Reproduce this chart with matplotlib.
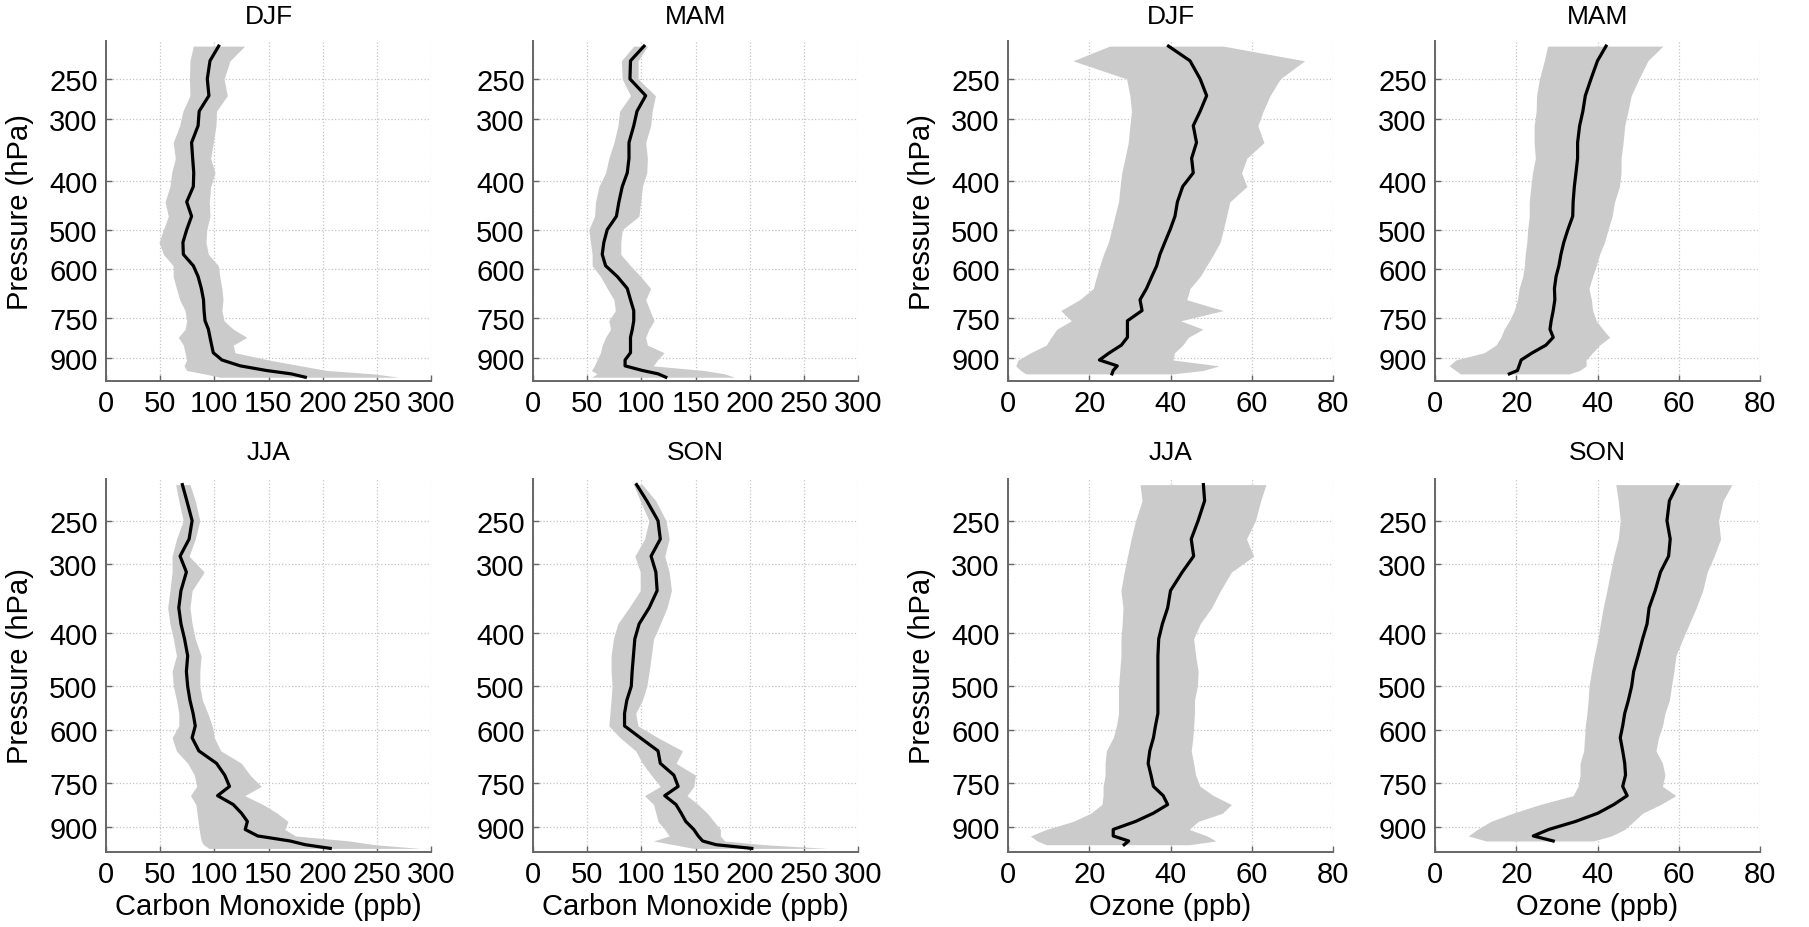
import numpy as np
import matplotlib
matplotlib.use("Agg")
import matplotlib.pyplot as plt

plt.rcParams['font.family'] = ['Liberation Sans', 'DejaVu Sans']

nan = np.nan

# pressure levels (hPa)
plev = [215, 230, 250, 270, 290, 310, 335, 360, 385, 410, 440, 470, 500, 530, 560,
        590, 620, 655, 690, 725, 760, 790, 820, 850, 880, 910, 935, 955, 970, 985]

# --- Carbon monoxide (ppb) ---
co_djf_mean = [104, 96, 93.5, 95, 86, 85, 79, 80, 81, 80.6, 74.5, 79, 74.5, 71, 71.4,
               80.6, 85, 88, 90, 90.5, 91.4, 94.5, 96, 97.5, 99, 107, 124, 148, 171, 184]
co_djf_lo = [80.6, 77.5, 77, 77.5, 71, 68, 62, 64, 60.6, 59, 54.5, 57.5, 53, 49, 53,
             62, 62, 65, 68, 73, 74.5, 73, 66.8, 71.4, 73, 74.5, 72, 74.5, 91, 105]
co_djf_hi = [128, 114.5, 109, 112, 102, 101.5, 99, 96.6, 100.6, 96.6, 95.4, 96, 93, 92.3, 94.5,
             103.7, 105, 107, 108, 107, 109, 117.5, 130, 117.5, 119, 150, 180, 204, 247, 270]

co_mam_mean = [102.5, 90, 89.5, 104, 96, 93, 88.6, 88.6, 87, 82.4, 79.3, 77, 68.5, 65.4, 63.9,
               67, 77.8, 87, 90, 93, 93, 91.7, 90, 90, 90, 85, 85, 101, 115.6, 122.6]
co_mam_lo = [93, 81.5, 82.4, 90, 80, 78.4, 74.7, 70, 67, 60.8, 57.7, 56.8, 51.5, 53, 54.6,
             54.6, 62.3, 68.5, 74.7, 76, 70, 71.6, 67, 63.9, 62.3, 59, 56.6, 54, 59, 54]
co_mam_hi = [105.6, 97, 97, 113, 110, 108.6, 104, 105.6, 105, 101, 99.4, 97.8, 82.4, 81, 81,
             90, 99.4, 108.6, 104, 108, 111.7, 107, 104, 105.6, 121, 115, 111, 158, 177, 186]

co_jja_mean = [70.5, 74.6, 79.5, 76.7, 68.4, 74.2, 69.2, 67.2, 69.2, 72.5, 75.4, 74.2, 75.4, 77.5, 80.4,
               82.4, 79.5, 85.7, 102, 109.6, 114, 103, 117.5, 125, 130.5, 128.5, 140, 170, 184, 207]
co_jja_lo = [64.3, 67.2, 71.3, 65.1, 61, 61, 59, 56.9, 59, 62.2, 65, 61, 62.2, 65.1, 67.2,
             67.2, 61, 65, 75.4, 81.6, 83.7, 78, 83, 84, 85, 86, 87, 88, 90, 95]
co_jja_hi = [77.5, 82.4, 86.6, 82.4, 76.7, 90.7, 79.5, 77.5, 79.5, 82.4, 87.8, 86.6, 86.6, 89, 94,
             98, 100, 106, 125, 133, 143.4, 128, 145, 158, 168, 165, 175, 225, 248, 290]

co_son_mean = [95.6, 105, 115.4, 117.5, 109, 113.4, 114.6, 107.2, 98, 94, 92.7, 91.5, 90.7, 86.6, 84.5,
               84.5, 99, 115.4, 117.5, 130, 134, 121.6, 132, 136.8, 141, 148.4, 152.5, 156.6, 169, 202]
co_son_lo = [92.7, 99, 107, 103, 94, 99, 99, 88.6, 78.3, 74.2, 72.1, 72.1, 73, 72, 71,
             70, 80.4, 94.8, 101, 109.2, 117.5, 103, 111.3, 113.4, 115.4, 121.6, 125.7, 111.3, 130, 148.4]
co_son_hi = [101, 113.3, 122.8, 125.7, 121.6, 125.7, 127.8, 123.7, 117.5, 111.3, 109.2, 107.2, 105, 101, 94.8,
             96.9, 115.4, 138, 132, 150, 148.4, 142.2, 152.5, 160.8, 167, 173, 173, 177, 214, 272]

# --- Ozone (ppb) ---
o3_djf_mean = [39.5, 44.8, 47.3, 48.9, 47.3, 45.6, 46.4, 45.2, 45.6, 43, 41.7, 41.1, 39.9, 38.6, 37.4,
               36.6, 35.4, 34.1, 32.5, 33, 29.4, 29.4, 29.4, 27.9, 25, 22.5, 26.9, 25.9, 25.6, nan]
o3_djf_lo = [25, 16, 29.2, 30, 30.4, 30, 29.6, 28.8, 28, 27.6, 27.2, 26.3, 25.5, 24.7, 23.5,
             22.6, 21.8, 21, 17.6, 13, 15.6, 12, 10.6, 9.4, 5.6, 2.5, 1.9, 3.1, 4.4, nan]
o3_djf_hi = [53, 73, 67, 64.5, 62.8, 61.5, 63, 58.8, 57.5, 58.8, 54.6, 53.8, 53, 52.2, 50.6,
             48.9, 47.3, 44.8, 44, 53, 42.5, 48, 44.4, 43, 41, 40.6, 52, 48, 40.6, nan]

o3_mam_mean = [42.1, 40, 38.4, 37, 36.4, 35.6, 35.1, 35.1, 34.7, 34.3, 34, 33.9, 32.7, 31.7, 31,
               30.5, 29.8, 29.4, 29.5, 29.1, 28.6, 28.3, 29.1, 27.3, 24, 21.2, 20.7, 20.3, 18.3, nan]
o3_mam_lo = [27.7, 26.9, 25.7, 25, 24.9, 24.4, 24.4, 24.7, 24, 23.6, 23.2, 23.2, 22.8, 22.6, 22.2,
             22, 21.6, 20.7, 20.3, 19.5, 18.3, 17, 16.2, 15, 12.1, 5.1, 3.5, 5.1, 6.3, nan]
o3_mam_hi = [56.1, 52.4, 50.2, 48.3, 47.5, 46.7, 46.3, 45.8, 45.8, 45.4, 44.2, 43.6, 42.6, 41.7, 40.5,
             39.7, 38.8, 37.9, 38.5, 38.8, 39.7, 41.3, 43, 40.5, 38.8, 37.2, 37.2, 35.6, 33, nan]

o3_jja_mean = [48.1, 48.4, 46.8, 45.1, 45.7, 42.9, 40, 39.3, 38, 37.1, 36.9, 36.9, 36.9, 36.9, 36.9,
               36.3, 35.8, 34.9, 34.5, 35.2, 35.8, 38.2, 39.3, 35.8, 31.4, 25.9, 25.9, 29.7, 28.6, nan]
o3_jja_lo = [32.5, 33, 31.4, 30.3, 29.4, 28.6, 27.8, 28.3, 28.1, 27.8, 27.8, 27.5, 27.2, 27.2, 27.2,
             26.7, 25.9, 24.2, 23.9, 23.9, 23.4, 23.4, 23.1, 20.4, 16, 9.4, 5.5, 7.2, 9.4, nan]
o3_jja_hi = [63.5, 62.2, 60.9, 58.7, 60.5, 55, 52.3, 50.1, 47.3, 45.7, 46.2, 46.8, 46.6, 45.9, 45.9,
             45.7, 45.5, 45.1, 45.7, 46.2, 47.3, 50.6, 55, 52.8, 46.8, 44.6, 49, 51.2, 44.6, nan]

o3_son_mean = [59.7, 57.7, 57.1, 57.9, 57.5, 55.5, 54.2, 52.7, 52.2, 51.1, 50, 48.9, 48.4, 47.6, 46.7,
               46.2, 45.6, 46.2, 46.7, 46.9, 46.2, 47.3, 44, 40.1, 34.6, 28, 24.2, 29.1, nan, nan]
o3_son_lo = [44.5, 45.1, 45.6, 45.1, 44, 43.2, 42.3, 41.4, 40.7, 40.1, 39.2, 38.5, 37.9, 37.7, 37.4,
             37, 36.8, 36.6, 35.7, 35.7, 35.2, 34, 25.8, 19.2, 13.7, 10.4, 8.2, 12.6, nan, nan]
o3_son_hi = [73.1, 70.9, 69.8, 70.3, 68.7, 67, 65.9, 64.3, 62.6, 61, 59.3, 58.8, 58.2, 57.7, 56.6,
             56, 55, 54.4, 56, 56.6, 56, 59.3, 55.5, 51.1, 48.9, 46.7, 43.4, 39, nan, nan]

ptick = [250, 300, 400, 500, 600, 750, 900]
co_ticks = [0, 50, 100, 150, 200, 250, 300]
o3_ticks = [0, 20, 40, 60, 80]

# (row, col, title, mean, lo, hi, species)
panels = [
    (0, 0, "DJF", co_djf_mean, co_djf_lo, co_djf_hi, "co"),
    (0, 1, "MAM", co_mam_mean, co_mam_lo, co_mam_hi, "co"),
    (0, 2, "DJF", o3_djf_mean, o3_djf_lo, o3_djf_hi, "o3"),
    (0, 3, "MAM", o3_mam_mean, o3_mam_lo, o3_mam_hi, "o3"),
    (1, 0, "JJA", co_jja_mean, co_jja_lo, co_jja_hi, "co"),
    (1, 1, "SON", co_son_mean, co_son_lo, co_son_hi, "co"),
    (1, 2, "JJA", o3_jja_mean, o3_jja_lo, o3_jja_hi, "o3"),
    (1, 3, "SON", o3_son_mean, o3_son_lo, o3_son_hi, "o3"),
]

W, H = 1809, 928
col_left = [106, 533, 1008, 1435]
col_w = 325
row_top = [42, 480]
row_h = [339.5, 373]
title_pad = [13, 14.5]

fig = plt.figure(figsize=(W / 100, H / 100), dpi=100)

for row, col, title, mean, lo, hi, sp in panels:
    l = col_left[col] / W
    b = 1 - (row_top[row] + row_h[row]) / H
    ax = fig.add_axes([l, b, col_w / W, row_h[row] / H])

    p = np.array(plev, dtype=float)
    ax.fill_betweenx(p, np.array(lo, float), np.array(hi, float),
                     color="#cbcbcb", linewidth=0, zorder=2)
    ax.plot(np.array(mean, float), p, color="black", lw=2.3, zorder=3)

    ax.set_yscale("log")
    ax.set_ylim(1000, 210)
    ax.set_yticks(ptick)
    ax.set_yticklabels([str(v) for v in ptick])
    ax.yaxis.set_minor_locator(matplotlib.ticker.NullLocator())

    if sp == "co":
        ax.set_xlim(0, 300)
        ax.set_xticks(co_ticks)
        xl = "Carbon Monoxide (ppb)"
    else:
        ax.set_xlim(0, 80)
        ax.set_xticks(o3_ticks)
        xl = "Ozone (ppb)"

    ax.grid(True, linestyle=":", color="#c4c4c4", linewidth=0.9, zorder=0)
    ax.set_axisbelow(True)
    for s in ["top", "right"]:
        ax.spines[s].set_visible(False)
    for s in ["left", "bottom"]:
        ax.spines[s].set_color("#666666")
        ax.spines[s].set_linewidth(1.4)
    ax.tick_params(direction="in", length=4, width=1, color="#666666",
                   labelsize=21, pad=6)

    ax.set_title(title, fontsize=19, pad=title_pad[row])
    if col in (0, 2):
        ax.set_ylabel("Pressure (hPa)", fontsize=21, labelpad=11)
    if row == 1:
        ax.set_xlabel(xl, fontsize=21, labelpad=3)

fig.savefig("out.png", dpi=100)
